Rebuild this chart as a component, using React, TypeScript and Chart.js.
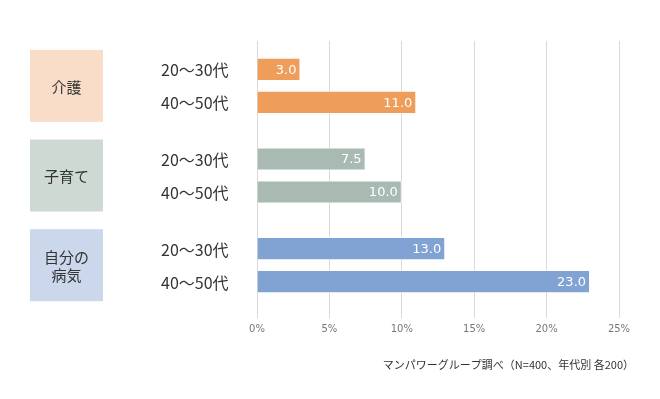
import React, { useEffect, useRef } from "react";
import { Chart, registerables } from "chart.js";

Chart.register(...registerables);

const groupLabels: string[][] = [["介護"], ["子育て"], ["自分の", "病気"]];
const ageLabels = ["20～30代", "40～50代"];
const values2030 = [3.0, 7.5, 13.0];
const values4050 = [11.0, 10.0, 23.0];
const barColors = ["#EE9D5A", "#A8BAB1", "#81A3D3"];
const boxColors = ["#F9DDC8", "#CFD9D4", "#CBD8EC"];
const xMax = 25;
const xStep = 5;
const sourceNote = "マンパワーグループ調べ（N=400、年代別 各200）";

const JP = '"Noto Sans CJK JP", "Noto Sans", sans-serif';
const NUM = '"DejaVu Sans", sans-serif';

const decorPlugin = {
  id: "decor",
  afterDatasetsDraw(chart: any) {
    const ctx = chart.ctx as CanvasRenderingContext2D;
    const yScale = chart.scales.y;
    ctx.save();
    chart.data.datasets.forEach((ds: any, di: number) => {
      const meta = chart.getDatasetMeta(di);
      meta.data.forEach((el: any, i: number) => {
        const v = ds.data[i];
        ctx.font = `13px ${NUM}`;
        ctx.fillStyle = "#ffffff";
        ctx.textAlign = "right";
        ctx.textBaseline = "middle";
        ctx.fillText(v.toFixed(1), el.x - 4, el.y + 1);
        ctx.font = `16px ${JP}`;
        ctx.fillStyle = "#333333";
        ctx.textAlign = "left";
        ctx.fillText(ageLabels[di], 161, el.y + 1);
      });
    });
    groupLabels.forEach((lines, i) => {
      const cy = yScale.getPixelForValue(i);
      const w = 73;
      const h = 72;
      const cx = 66.5;
      ctx.fillStyle = boxColors[i];
      ctx.fillRect(cx - w / 2, cy - h / 2, w, h);
      ctx.font = `15px ${JP}`;
      ctx.fillStyle = "#333333";
      ctx.textAlign = "center";
      ctx.textBaseline = "middle";
      const lh = 18;
      lines.forEach((t, li) => {
        ctx.fillText(t, cx, cy + (li - (lines.length - 1) / 2) * lh + 1);
      });
    });
    ctx.font = `11px ${JP}`;
    ctx.fillStyle = "#333333";
    ctx.textAlign = "right";
    ctx.textBaseline = "middle";
    ctx.fillText(sourceNote, 634, 365);
    ctx.restore();
  },
};

export default function App() {
  const ref = useRef<HTMLCanvasElement>(null);
  useEffect(() => {
    if (!ref.current) return;
    const chart = new Chart(ref.current, {
      type: "bar",
      data: {
        labels: groupLabels.map((l) => l.join("")),
        datasets: [
          {
            label: ageLabels[0],
            data: values2030,
            backgroundColor: barColors,
            borderColor: "rgba(255,255,255,0.6)",
            borderWidth: 1,
            categoryPercentage: 0.736,
            barPercentage: 0.7,
          },
          {
            label: ageLabels[1],
            data: values4050,
            backgroundColor: barColors,
            borderColor: "rgba(255,255,255,0.6)",
            borderWidth: 1,
            categoryPercentage: 0.736,
            barPercentage: 0.7,
          },
        ],
      },
      options: {
        indexAxis: "y",
        responsive: false,
        animation: false,
        layout: { padding: { left: 257, right: 41, top: 41, bottom: 0 } },
        plugins: {
          legend: { display: false },
          tooltip: { enabled: false },
        },
        scales: {
          x: {
            min: 0,
            max: xMax,
            afterFit: (scale: any) => {
              scale.height = 89;
            },
            ticks: {
              stepSize: xStep,
              color: "#777777",
              font: { family: NUM, size: 10 },
              padding: 5,
              callback: (v: any) => `${v}%`,
            },
            grid: {
              color: "#D9D9D9",
              lineWidth: 1,
              tickLength: 8,
              drawTicks: true,
            },
            border: { display: false },
          },
          y: {
            display: false,
          },
        },
      },
      plugins: [decorPlugin],
    } as any);
    return () => chart.destroy();
  }, []);
  return (
    <div style={{ position: "fixed", left: 0, top: 0, width: 660, height: 399, background: "#fff" }}>
      <canvas ref={ref} width={660} height={399} style={{ width: 660, height: 399 }} />
    </div>
  );
}
